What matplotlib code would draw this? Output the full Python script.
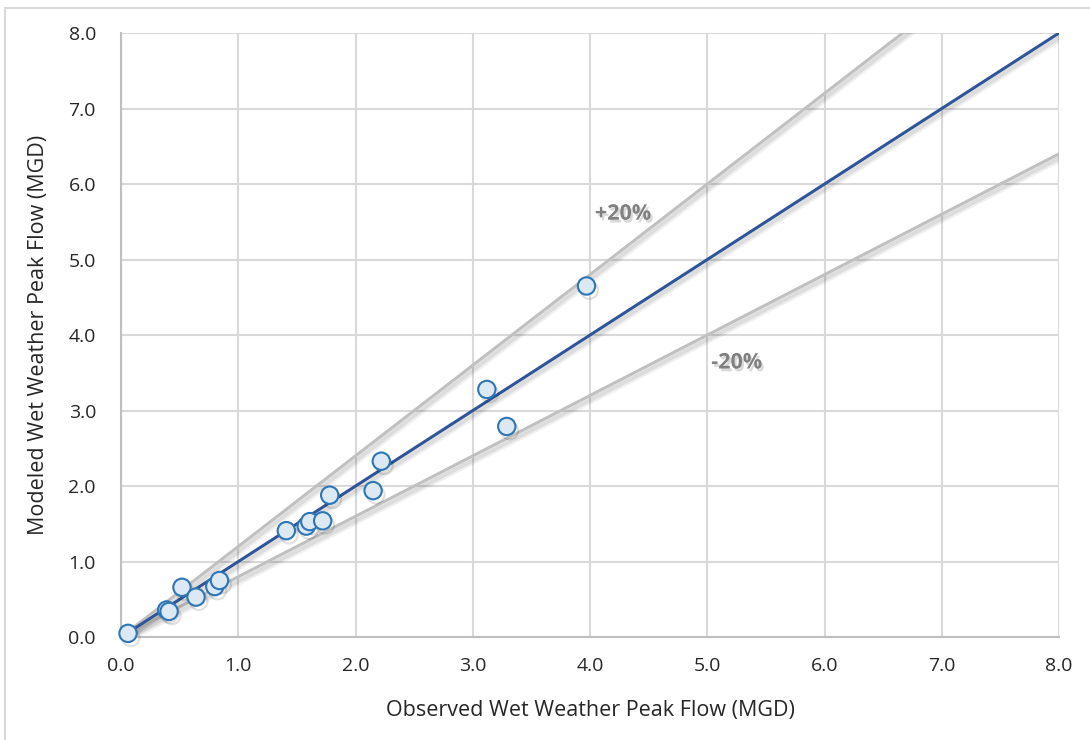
import matplotlib.pyplot as plt
import matplotlib.patheffects as pe
from matplotlib.patches import Rectangle

# datos
observed = [0.06, 0.39, 0.41, 0.52, 0.64, 0.80, 0.84, 1.41, 1.58, 1.61, 1.72, 1.78, 2.15, 2.22, 3.12, 3.29, 3.97]
modeled = [0.05, 0.36, 0.34, 0.66, 0.53, 0.67, 0.75, 1.41, 1.47, 1.53, 1.54, 1.88, 1.94, 2.33, 3.28, 2.79, 4.65]
ticks = [0, 1, 2, 3, 4, 5, 6, 7, 8]
line_x = [0, 8]
bands = [("+20%", 1.2, 4.28, 5.6), ("-20%", 0.8, 5.25, 3.63)]

plt.rcParams['font.family'] = ['Open Sans', 'DejaVu Sans']

fig = plt.figure(figsize=(10.9, 7.4), dpi=100)
ax = fig.add_axes([0.111, 0.139, 0.8606, 0.8164])

# sombra suave (dos capas para simular el difuminado)
shadow = [pe.SimpleLineShadow(offset=(1.5, -2.5), shadow_color='black', alpha=0.06, linewidth=6),
          pe.SimpleLineShadow(offset=(1.5, -2.5), shadow_color='black', alpha=0.08, linewidth=3),
          pe.Normal()]

# lineas de +/-20%
for label, factor, tx, ty in bands:
    ax.plot(line_x, [v * factor for v in line_x], color='#c0c0c0', lw=2.2, zorder=2,
            path_effects=shadow)
    ax.text(tx, ty, label, fontsize=15.5, fontweight='bold', color='#808080', ha='center', va='center',
            path_effects=[pe.SimplePatchShadow(offset=(1.5, -2), shadow_rgbFace='black', alpha=0.15), pe.Normal()])

# linea 1:1
ax.plot(line_x, line_x, color='#2f5597', lw=2.2, zorder=3, path_effects=shadow)

# puntos
ax.plot(observed, modeled, 'o', ms=12.5, mfc='#dce8f4', mec='#2e75b6', mew=1.5, zorder=4,
        path_effects=[pe.SimpleLineShadow(offset=(2, -3), shadow_color='black', alpha=0.12), pe.Normal()],
        clip_on=False)

ax.set_xlim(0, 8)
ax.set_ylim(0, 8)
ax.set_xticks(ticks)
ax.set_yticks(ticks)
ax.set_xticklabels([f"{t:.1f}" for t in ticks])
ax.set_yticklabels([f"{t:.1f}" for t in ticks])
ax.tick_params(axis='x', length=0, labelsize=14, pad=14, colors='#262626')
ax.tick_params(axis='y', length=0, labelsize=14, pad=18, colors='#262626')
ax.grid(True, color='#d9d9d9', lw=1.5)
ax.set_axisbelow(True)
for s in ['top', 'right']:
    ax.spines[s].set_visible(False)
for s in ['left', 'bottom']:
    ax.spines[s].set_color('#bfbfbf')
    ax.spines[s].set_linewidth(1.5)

ax.set_xlabel('Observed Wet Weather Peak Flow (MGD)', fontsize=15.5, color='#262626', labelpad=18)
ax.set_ylabel('Modeled Wet Weather Peak Flow (MGD)', fontsize=15.5, color='#262626', labelpad=14)

# marco del grafico
fig.patches.append(Rectangle((0.005, -0.02), 1.1, 1.009, transform=fig.transFigure,
                             fill=False, edgecolor='#d9d9d9', lw=1.5))

fig.savefig('out.png', dpi=100)
